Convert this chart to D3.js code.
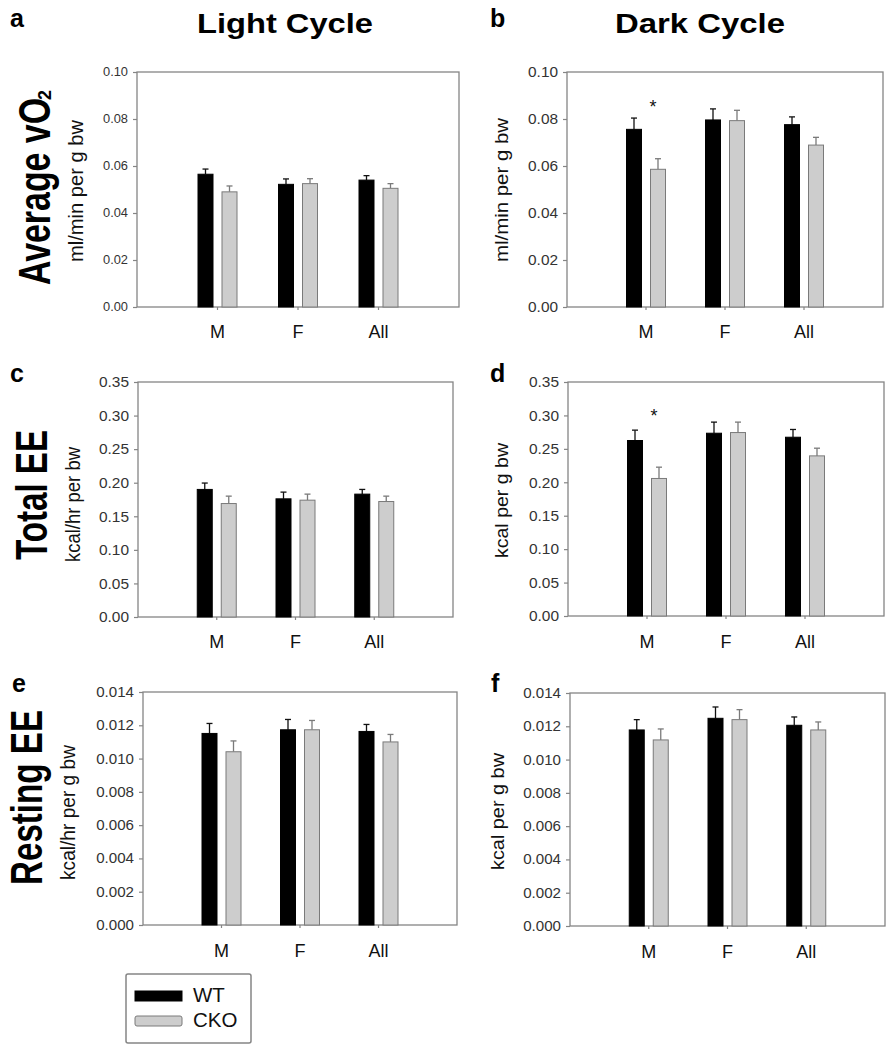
<!DOCTYPE html>
<html><head><meta charset="utf-8">
<script src="https://cdn.jsdelivr.net/npm/d3@7"></script>
<style>
body{margin:0;background:#fff}
svg{display:block}
text{font-family:"Liberation Sans",Arial,Helvetica,sans-serif}
</style>
</head><body><div id="chart"></div>
<script>
// ---------------- DATA ----------------
const categories = ["M", "F", "All"];
const groups = ["WT", "CKO"];
const columnTitles = ["Light Cycle", "Dark Cycle"];
const rowTitles = ["Average vO", "Total EE", "Resting EE"];

// a: Average vO2, light cycle
const vo2LightWT = [0.0565, 0.0522, 0.0540];
const vo2LightWTErr = [0.0022, 0.0023, 0.0019];
const vo2LightCKO = [0.0490, 0.0525, 0.0505];
const vo2LightCKOErr = [0.0025, 0.0021, 0.0020];
// b: Average vO2, dark cycle
const vo2DarkWT = [0.0756, 0.0796, 0.0776];
const vo2DarkWTErr = [0.0048, 0.0047, 0.0033];
const vo2DarkCKO = [0.0586, 0.0793, 0.0689];
const vo2DarkCKOErr = [0.0045, 0.0044, 0.0033];
// c: Total EE, light cycle
const eeLightWT = [0.190, 0.176, 0.183];
const eeLightWTErr = [0.0095, 0.0100, 0.0070];
const eeLightCKO = [0.169, 0.174, 0.172];
const eeLightCKOErr = [0.0110, 0.0090, 0.0080];
// d: Total EE, dark cycle
const eeDarkWT = [0.2625, 0.2734, 0.2674];
const eeDarkWTErr = [0.0155, 0.0166, 0.0116];
const eeDarkCKO = [0.2057, 0.2744, 0.2395];
const eeDarkCKOErr = [0.0169, 0.0156, 0.0115];
// e: Resting EE, light cycle
const restLightWT = [0.01151, 0.01173, 0.01163];
const restLightWTErr = [0.00060, 0.00062, 0.00042];
const restLightCKO = [0.01041, 0.01173, 0.01100];
const restLightCKOErr = [0.00065, 0.00056, 0.00045];
// f: Resting EE, dark cycle
const restDarkWT = [0.01178, 0.01248, 0.01206];
const restDarkWTErr = [0.00062, 0.00068, 0.00050];
const restDarkCKO = [0.01118, 0.01240, 0.01178];
const restDarkCKOErr = [0.00066, 0.00060, 0.00048];

const vo2Ticks = [0, 0.02, 0.04, 0.06, 0.08, 0.10];
const eeTicks = [0, 0.05, 0.10, 0.15, 0.20, 0.25, 0.30, 0.35];
const restTicks = [0, 0.002, 0.004, 0.006, 0.008, 0.010, 0.012, 0.014];

const yLabels = {a: "ml/min per g bw", b: "ml/min per g bw", c: "kcal/hr per bw",
                 d: "kcal per g bw", e: "kcal/hr per g bw", f: "kcal per g bw"};
const sigMarks = [{panel: "b", cat: "M", value: 0.087}, {panel: "d", cat: "M", value: 0.3055}];

const panels = [
  {id: "a", wt: vo2LightWT, wtErr: vo2LightWTErr, cko: vo2LightCKO, ckoErr: vo2LightCKOErr, ticks: vo2Ticks, fmt: ".2f"},
  {id: "b", wt: vo2DarkWT, wtErr: vo2DarkWTErr, cko: vo2DarkCKO, ckoErr: vo2DarkCKOErr, ticks: vo2Ticks, fmt: ".2f"},
  {id: "c", wt: eeLightWT, wtErr: eeLightWTErr, cko: eeLightCKO, ckoErr: eeLightCKOErr, ticks: eeTicks, fmt: ".2f"},
  {id: "d", wt: eeDarkWT, wtErr: eeDarkWTErr, cko: eeDarkCKO, ckoErr: eeDarkCKOErr, ticks: eeTicks, fmt: ".2f"},
  {id: "e", wt: restLightWT, wtErr: restLightWTErr, cko: restLightCKO, ckoErr: restLightCKOErr, ticks: restTicks, fmt: ".3f"},
  {id: "f", wt: restDarkWT, wtErr: restDarkWTErr, cko: restDarkCKO, ckoErr: restDarkCKOErr, ticks: restTicks, fmt: ".3f"}
];

// ---------------- LAYOUT ----------------
const W = 895, H = 1050;
const layout = {
  a: {x0: 137, x1: 459, y0: 72, y1: 307, tf: 12, tk: 1.07, yl: {x: 83, y: 262, len: 142, fs: 20}, letter: {x: 10, y: 27}, catY: 338},
  b: {x0: 567, x1: 883, y0: 72, y1: 307, tf: 14, tk: 1.1, yl: {x: 508, y: 262, len: 144, fs: 18}, letter: {x: 490, y: 27}, catY: 338},
  c: {x0: 138, x1: 453, y0: 382, y1: 617, tf: 15, tk: 1.03, yl: {x: 80, y: 562, len: 115, fs: 20}, letter: {x: 10, y: 382}, catY: 648},
  d: {x0: 568, x1: 884, y0: 382, y1: 616, tf: 15, tk: 1.03, yl: {x: 508, y: 558, len: 115, fs: 18}, letter: {x: 490, y: 382}, catY: 648},
  e: {x0: 143, x1: 457, y0: 692, y1: 925, tf: 14, tk: 1.08, yl: {x: 75, y: 880, len: 135, fs: 20}, letter: {x: 12, y: 692}, catY: 957},
  f: {x0: 570, x1: 885, y0: 693, y1: 926, tf: 14, tk: 1.08, yl: {x: 504, y: 870, len: 117, fs: 18}, letter: {x: 491, y: 692}, catY: 958}
};
const frameColor = "#858585";
const ckoFill = "#cdcdcd", ckoStroke = "#7a7a7a";
const fontFam = '"Liberation Sans", Arial, Helvetica, sans-serif';

const svg = d3.select("#chart").append("svg").attr("width", W).attr("height", H)
  .attr("font-family", fontFam);

function stretch(sel, k) {
  sel.each(function () {
    const n = this.getComputedTextLength();
    this.setAttribute("textLength", n * k);
    this.setAttribute("lengthAdjust", "spacingAndGlyphs");
  });
}

// column titles
const colPos = [{x: 197, len: 176}, {x: 615, len: 170}];
columnTitles.forEach((t, i) => {
  svg.append("text").attr("x", colPos[i].x).attr("y", 33)
    .attr("font-size", 28).attr("font-weight", "bold")
    .attr("textLength", colPos[i].len).attr("lengthAdjust", "spacingAndGlyphs")
    .text(t);
});

// row titles (rotated)
const rowPos = [{x: 50, y: 285, len: 187}, {x: 47, y: 560, len: 130}, {x: 42, y: 885, len: 175}];
rowTitles.forEach((t, i) => {
  svg.append("text").attr("transform", `translate(${rowPos[i].x},${rowPos[i].y}) rotate(-90)`)
    .attr("font-size", 44).attr("font-weight", "bold")
    .attr("textLength", rowPos[i].len).attr("lengthAdjust", "spacingAndGlyphs")
    .text(t);
});
// subscript 2 of vO2
svg.append("text").attr("transform", `translate(51,100) rotate(-90)`)
  .attr("font-size", 18).attr("font-weight", "bold")
  .attr("textLength", 10).attr("lengthAdjust", "spacingAndGlyphs").text("2");

panels.forEach(p => {
  const L = layout[p.id];
  const g = svg.append("g");
  const yMax = p.ticks[p.ticks.length - 1];
  const y = d3.scaleLinear().domain([0, yMax]).range([L.y1, L.y0]);
  const x = d3.scalePoint().domain(categories).range([L.x0, L.x1]).padding(1);
  const sub = d3.scaleBand().domain(groups).range([-19.5, 19.5]).paddingInner(0.375);

  // frame
  g.append("rect").attr("x", L.x0).attr("y", L.y0).attr("width", L.x1 - L.x0).attr("height", L.y1 - L.y0)
    .attr("fill", "none").attr("stroke", frameColor).attr("stroke-width", 1.3);

  // y axis
  const ax = g.append("g").attr("transform", `translate(${L.x0},0)`)
    .call(d3.axisLeft(y).tickValues(p.ticks).tickFormat(d3.format(p.fmt)).tickSize(4).tickPadding(5));
  ax.attr("font-family", fontFam).attr("font-size", L.tf);
  ax.select(".domain").remove();
  ax.selectAll(".tick line").attr("stroke", frameColor).attr("stroke-width", 1.2);
  ax.selectAll(".tick text").attr("font-size", L.tf).attr("fill", "#333")
    .call(stretch, L.tk);

  // x ticks and labels
  g.selectAll(".xt").data(categories).enter().append("line")
    .attr("x1", d => x(d)).attr("x2", d => x(d)).attr("y1", L.y1).attr("y2", L.y1 + 3)
    .attr("stroke", frameColor).attr("stroke-width", 1.2);
  g.selectAll(".xl").data(categories).enter().append("text")
    .attr("x", d => x(d)).attr("y", L.catY).attr("text-anchor", "middle")
    .attr("font-size", 18).attr("fill", "#111").text(d => d);

  // bars
  const rows = categories.map((c, i) => ({cat: c, vals: [
    {grp: "WT", v: p.wt[i], e: p.wtErr[i]},
    {grp: "CKO", v: p.cko[i], e: p.ckoErr[i]}]}));
  const cg = g.selectAll(".cat").data(rows).enter().append("g")
    .attr("transform", d => `translate(${x(d.cat)},0)`);
  const items = cg.selectAll(".bar").data(d => d.vals).enter();
  // error bars
  items.append("line")
    .attr("x1", d => sub(d.grp) + sub.bandwidth() / 2).attr("x2", d => sub(d.grp) + sub.bandwidth() / 2)
    .attr("y1", d => y(d.v)).attr("y2", d => y(d.v + d.e))
    .attr("stroke", d => d.grp === "WT" ? "#111" : ckoStroke).attr("stroke-width", 1.3);
  items.append("line")
    .attr("x1", d => sub(d.grp) + sub.bandwidth() / 2 - 3).attr("x2", d => sub(d.grp) + sub.bandwidth() / 2 + 3)
    .attr("y1", d => y(d.v + d.e)).attr("y2", d => y(d.v + d.e))
    .attr("stroke", d => d.grp === "WT" ? "#111" : ckoStroke).attr("stroke-width", 1.3);
  items.append("rect")
    .attr("x", d => sub(d.grp)).attr("width", sub.bandwidth())
    .attr("y", d => y(d.v)).attr("height", d => y(0) - y(d.v))
    .attr("fill", d => d.grp === "WT" ? "#000" : ckoFill)
    .attr("stroke", d => d.grp === "WT" ? "#000" : ckoStroke).attr("stroke-width", 1);

  // significance
  sigMarks.filter(s => s.panel === p.id).forEach(s => {
    g.append("text").attr("x", x(s.cat) + 7).attr("y", y(s.value) + 10.3)
      .attr("text-anchor", "middle").attr("font-size", 18).attr("fill", "#111").text("*");
  });

  // y label
  g.append("text").attr("transform", `translate(${L.yl.x},${L.yl.y}) rotate(-90)`)
    .attr("font-size", L.yl.fs).attr("fill", "#111")
    .attr("textLength", L.yl.len).attr("lengthAdjust", "spacingAndGlyphs")
    .text(yLabels[p.id]);

  // panel letter
  g.append("text").attr("x", L.letter.x).attr("y", L.letter.y)
    .attr("font-size", 25).attr("font-weight", "bold").text(p.id);
});

// legend
const lg = svg.append("g");
lg.append("rect").attr("x", 126).attr("y", 974).attr("width", 125).attr("height", 69).attr("rx", 2)
  .attr("fill", "#fff").attr("stroke", frameColor).attr("stroke-width", 1.5);
const legItems = lg.selectAll(".li").data(groups).enter().append("g")
  .attr("transform", (d, i) => `translate(135,${991 + i * 25})`);
legItems.append("rect").attr("width", 47).attr("height", 10).attr("rx", d => d === "WT" ? 0 : 2)
  .attr("fill", d => d === "WT" ? "#000" : ckoFill).attr("stroke", d => d === "WT" ? "#000" : ckoStroke);
legItems.append("text").attr("x", 58).attr("y", 11).attr("font-size", 20.5).attr("fill", "#111")
  .text(d => d);
</script>
</body></html>
